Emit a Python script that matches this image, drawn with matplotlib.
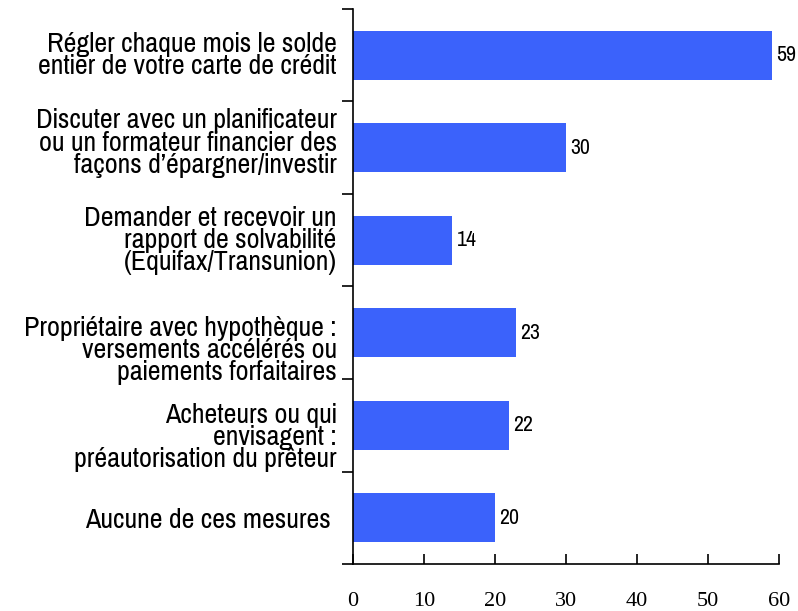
import matplotlib
matplotlib.use("Agg")
import matplotlib.pyplot as plt

categories = [
    "Régler chaque mois le solde\nentier de votre carte de crédit",
    "Discuter avec un planificateur\nou un formateur financier des\nfaçons d’épargner/investir",
    "Demander et recevoir un\nrapport de solvabilité\n(Equifax/Transunion)",
    "Propriétaire avec hypothèque :\nversements accélérés ou\npaiements forfaitaires",
    "Acheteurs ou qui\nenvisagent :\npréautorisation du prêteur",
    "Aucune de ces mesures ",
]
values = [59, 30, 14, 23, 22, 20]
xticks = [0, 10, 20, 30, 40, 50, 60]

# small vertical nudges of the category labels (in category units)
label_shift = [0.0, -0.05, 0.0, 0.19, 0.13, 0.03]

sans = ["Pragati Narrow", "Archivo Narrow", "Liberation Sans", "DejaVu Sans"]
bar_color = "#3b62fb"

fig = plt.figure(figsize=(7.98, 6.11), dpi=100)
ax = fig.add_axes([0.4424, 0.0769, 0.5338, 0.9084])

pos = list(range(len(categories)))
ax.barh(pos, values, height=0.53, color=bar_color, zorder=2)

for p, v in zip(pos, values):
    ax.text(v + 0.6, p, str(v), va="center", ha="left",
            fontsize=17, family=sans)

for p, lab, s in zip(pos, categories, label_shift):
    ax.text(-2.3, p + s, lab, ha="right", va="center", fontsize=22,
            family=sans, linespacing=0.86, multialignment="right")

ax.set_xlim(0, 60)
ax.set_ylim(len(categories) - 0.5, -0.5)

ax.set_yticks([p - 0.5 for p in pos] + [len(categories) - 0.5])
ax.set_yticklabels([])
ax.tick_params(axis="y", direction="out", length=8, width=1.2)

ax.set_xticks(xticks)
ax.set_xticklabels([str(t) for t in xticks], family="Liberation Serif", fontsize=16)
ax.tick_params(axis="x", direction="in", length=7, width=1.2, pad=20)

for side in ["top", "right"]:
    ax.spines[side].set_visible(False)
for side in ["left", "bottom"]:
    ax.spines[side].set_linewidth(1.2)

fig.savefig("out.png", dpi=100)
